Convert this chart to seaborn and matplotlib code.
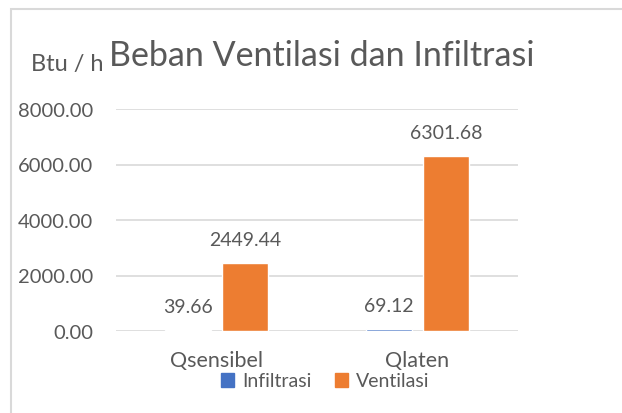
import matplotlib
matplotlib.use("Agg")
import matplotlib.pyplot as plt
import seaborn as sns
import pandas as pd
from matplotlib.patches import Rectangle, Patch

categories = ["Qsensibel", "Qlaten"]
series = ["Infiltrasi", "Ventilasi"]
infiltrasi = [39.66, 69.12]
ventilasi = [2449.44, 6301.68]
yticks = [0, 2000, 4000, 6000, 8000]

df = pd.DataFrame({
    "cat": categories * 2,
    "series": [series[0]] * 2 + [series[1]] * 2,
    "value": infiltrasi + ventilasi,
})

sns.set_theme(style="white")
plt.rcParams["font.family"] = ["Lato", "DejaVu Sans"]
txt = "#595959"

fig = plt.figure(figsize=(6.22, 4.14), dpi=100)
ax = fig.add_axes([116/622, 1-332/414, (518-116)/622, (332-110)/414])

sns.barplot(data=df, x="cat", y="value", hue="series", order=categories,
            hue_order=series, palette=["#4472C4", "#ED7D31"], width=0.567,
            gap=0.21, ax=ax, legend=False, saturation=1)

for cont in ax.containers:
    ax.bar_label(cont, labels=[f"{v:.2f}" for v in cont.datavalues],
                 padding=11, fontsize=14, color=txt)

ax.set_ylim(0, 8000)
ax.set_xlim(-0.5, 1.5)
ax.set_yticks(yticks)
ax.set_yticklabels([f"{v:.2f}" for v in yticks])
ax.yaxis.grid(True, color="#d9d9d9", linewidth=1.2)
ax.set_axisbelow(True)
for s in ax.spines.values():
    s.set_visible(False)
ax.tick_params(axis="y", length=0, pad=16.5, labelsize=14.5, labelcolor=txt)
ax.tick_params(axis="x", length=0, pad=14, labelsize=15.5, labelcolor=txt)
ax.set_xlabel("")
ax.set_ylabel("")

fig.text(322/622, 1-56/414, "Beban Ventilasi dan Infiltrasi", ha="center",
         va="center", fontsize=24.5, color=txt)
fig.text(67/622, 1-64/414, "Btu / h", ha="center", va="center",
         fontsize=17, color=txt)

handles = [Patch(color="#4472C4"), Patch(color="#ED7D31")]
fig.legend(handles, series, loc="center", bbox_to_anchor=(325/622, 1-382/414),
           ncol=2, frameon=False, fontsize=14, labelcolor=txt,
           handlelength=0.7, handleheight=0.7, handletextpad=0.4,
           columnspacing=1.2, borderpad=0)

fig.patches.append(Rectangle((11/622, -0.1), 1.2, 1-10/414+0.1,
                             transform=fig.transFigure, fill=False,
                             edgecolor="#d9d9d9", linewidth=1.5))

fig.savefig("out.png", dpi=100, facecolor="white")
